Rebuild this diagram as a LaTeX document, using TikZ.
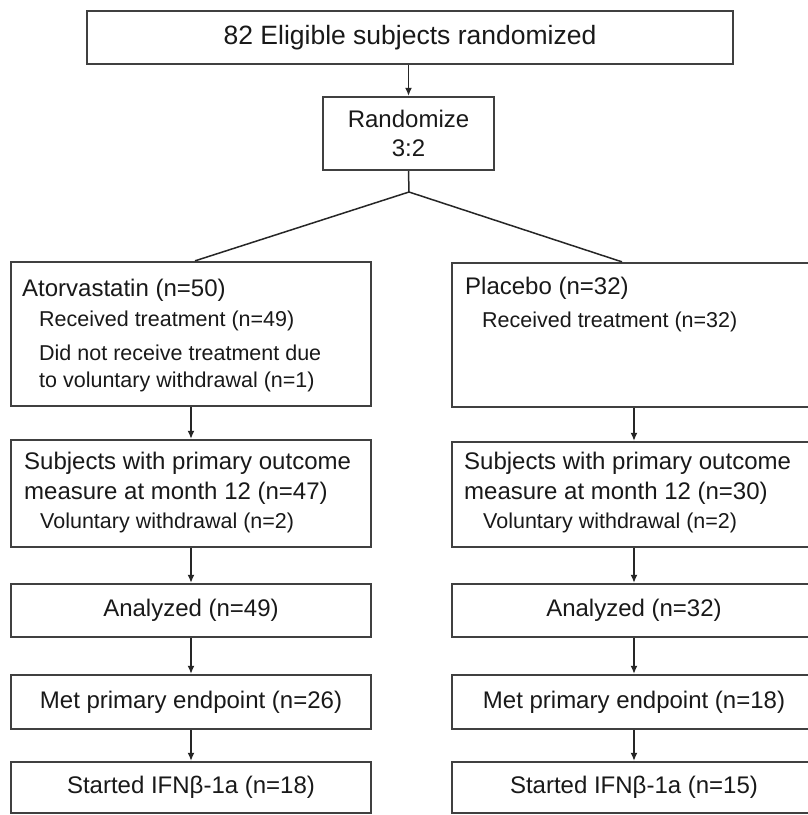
\documentclass[tikz,border=0pt]{standalone}
\usepackage{fontspec}
\setmainfont{Liberation Sans}
\usetikzlibrary{arrows.meta}

\begin{document}
\begin{tikzpicture}[x=1pt,y=-1pt,
  box/.style={draw=black!75, line width=2.3pt, inner sep=0pt},
  link/.style={draw=black!85, line width=1.5pt},
  arr/.style={link, -{Latex[length=8pt,width=7pt]}},
  big/.style={font=\fontsize{24}{30}\selectfont, text=black!90},
  small/.style={font=\fontsize{21.5}{27}\selectfont, text=black!90}]
\fill[white] (0,0) rectangle (807,815);
\useasboundingbox (0,0) rectangle (807,815);
\node[box, minimum width=646pt, minimum height=53pt, font=\fontsize{26.5}{30}\selectfont, text=black!90] (top) at (410,37.5) {82 Eligible subjects randomized};
\node[box, big, align=center, minimum width=171pt, minimum height=73pt, font=\fontsize{24}{29}\selectfont] (rand) at (408.5,133.5) {Randomize\\3:2};
\coordinate (split) at (409,192);

\node[box, minimum width=360pt, minimum height=144pt] (atv1) at (191,334) {};
\node[box, minimum width=364pt, minimum height=144pt] (pla1) at (634,335) {};
\node[box, minimum width=360pt, minimum height=107pt] (atv2) at (191,493.5) {};
\node[box, minimum width=364pt, minimum height=105pt] (pla2) at (634,494.5) {};
\node[box, big, minimum width=360pt, minimum height=53pt] (atv3) at (191,610.5) {Analyzed (n=49)};
\node[box, big, minimum width=364pt, minimum height=53pt] (pla3) at (634,610.5) {Analyzed (n=32)};
\node[box, big, minimum width=360pt, minimum height=54pt] (atv4) at (191,702) {Met primary endpoint (n=26)};
\node[box, big, minimum width=364pt, minimum height=54pt] (pla4) at (634,702) {Met primary endpoint (n=18)};
\node[box, big, minimum width=360pt, minimum height=51pt] (atv5) at (191,787.5) {Started IFNβ-1a (n=18)};
\node[box, big, minimum width=364pt, minimum height=51pt] (pla5) at (634,787.5) {Started IFNβ-1a (n=15)};

\node[big, anchor=west, inner sep=0pt] (atvname) at (22,290) {Atorvastatin (n=50)};
\node[small, anchor=west, inner sep=0pt] (atvrec) at (39,321) {Received treatment (n=49)};
\node[small, anchor=west, inner sep=0pt, align=left] (atvnot) at (39,368.5) {Did not receive treatment due\\to voluntary withdrawal (n=1)};
\node[big, anchor=west, inner sep=0pt] (planame) at (465,288) {Placebo (n=32)};
\node[small, anchor=west, inner sep=0pt] (plarec) at (482,322) {Received treatment (n=32)};
\node[big, anchor=west, inner sep=0pt, align=left] (atvout) at (24,478) {Subjects with primary outcome\\measure at month 12 (n=47)};
\node[small, anchor=west, inner sep=0pt] (atvwd) at (40,523) {Voluntary withdrawal (n=2)};
\node[big, anchor=west, inner sep=0pt, align=left] (plaout) at (464,478) {Subjects with primary outcome\\measure at month 12 (n=30)};
\node[small, anchor=west, inner sep=0pt] (plawd) at (483,523) {Voluntary withdrawal (n=2)};

\draw[arr] (rand.north |- top.south) -- (rand.north);
\draw[link] (rand.south) -- (split);
\draw[link] (split) -- ([xshift=4pt]atv1.north);
\draw[link] (split) -- ([xshift=-12pt]pla1.north);
\foreach \a/\b in {atv1/atv2, atv2/atv3, atv3/atv4, atv4/atv5, pla1/pla2, pla2/pla3, pla3/pla4, pla4/pla5}
  \draw[arr] (\a) -- (\b);
\end{tikzpicture}
\end{document}
